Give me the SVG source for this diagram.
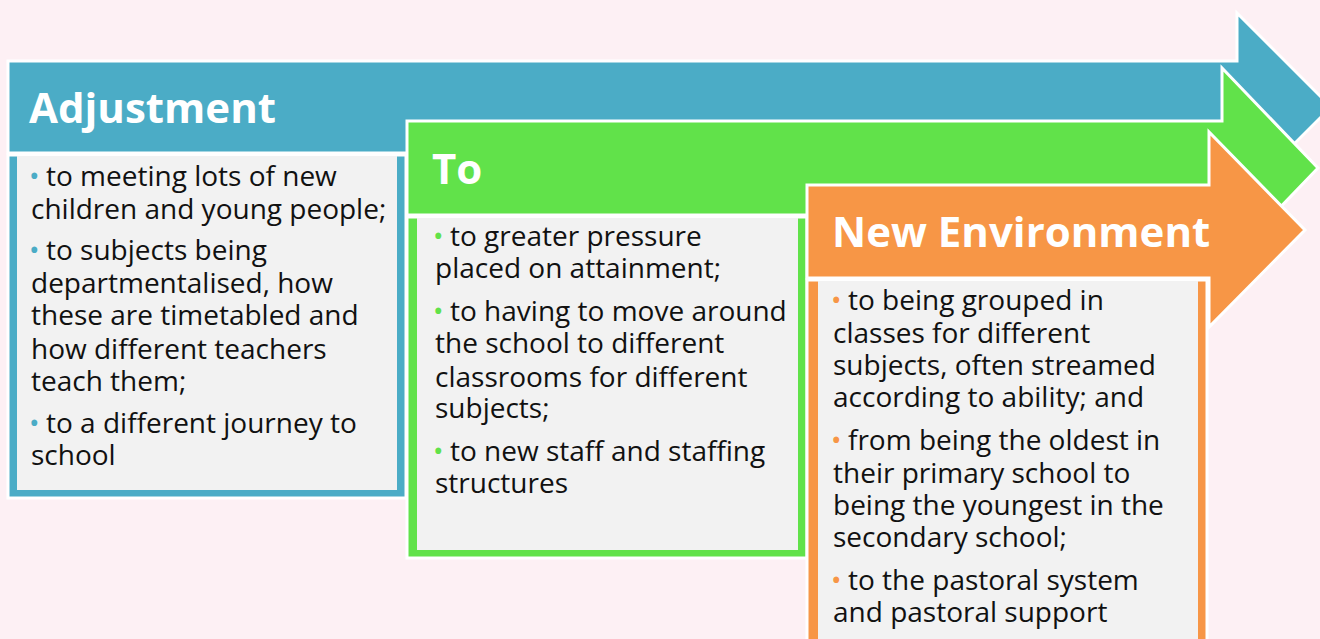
<svg xmlns="http://www.w3.org/2000/svg" width="1320" height="639" viewBox="0 0 1320 639">
  <style>
    .arrow { stroke: #ffffff; stroke-width: 3; stroke-linejoin: miter; }
    .frame { stroke: #ffffff; stroke-width: 3; }
    .panel { fill: #f2f2f2; }
    .blue { fill: #4bacc6; }
    .green { fill: #61e24a; }
    .orange { fill: #f79646; }
    .title { font-family: "Open Sans", "Liberation Sans", sans-serif; font-weight: 700; font-size: 42px; fill: #ffffff; }
    .body { font-family: "Open Sans", "Liberation Sans", sans-serif; font-size: 28px; fill: #111111; }
    .bb { fill: #4bacc6; }
    .bg { fill: #61e24a; }
    .bo { fill: #f79646; }
  </style>
  <rect width="1320" height="639" fill="#fdf0f4"/>

  <!-- first stage: Adjustment -->
  <g id="adjustment">
    <polygon class="arrow blue" points="8,61 1237,61 1237,13 1331,107 1237,201 1237,153 8,153"/>
    <text class="title" x="29" y="123">Adjustment</text>
    <rect class="frame blue" x="8" y="155" width="398" height="343"/>
    <rect class="panel" x="17" y="156" width="380" height="334"/>
    <text class="body">
      <tspan class="bb" x="29" y="186">•</tspan><tspan x="46" y="186">to meeting lots of new</tspan>
      <tspan x="31" y="219">children and young people;</tspan>
      <tspan class="bb" x="29" y="260">•</tspan><tspan x="46" y="260">to subjects being</tspan>
      <tspan x="31" y="293">departmentalised, how</tspan>
      <tspan x="31" y="325">these are timetabled and</tspan>
      <tspan x="31" y="359">how different teachers</tspan>
      <tspan x="31" y="391">teach them;</tspan>
      <tspan class="bb" x="29" y="433">•</tspan><tspan x="46" y="433">to a different journey to</tspan>
      <tspan x="31" y="465">school</tspan>
    </text>
  </g>

  <!-- second stage: To -->
  <g id="to">
    <polygon class="arrow green" points="407,121 1222,121 1222,68 1318,168 1222,268 1222,215 407,215"/>
    <text class="title" x="432" y="184">To</text>
    <rect class="frame green" x="407" y="217" width="400" height="341"/>
    <rect class="panel" x="417" y="218" width="381" height="332"/>
    <text class="body">
      <tspan class="bg" x="433" y="246">•</tspan><tspan x="450" y="246">to greater pressure</tspan>
      <tspan x="435" y="278">placed on attainment;</tspan>
      <tspan class="bg" x="433" y="321">•</tspan><tspan x="450" y="321">to having to move around</tspan>
      <tspan x="435" y="353">the school to different</tspan>
      <tspan x="435" y="387">classrooms for different</tspan>
      <tspan x="435" y="418">subjects;</tspan>
      <tspan class="bg" x="433" y="461">•</tspan><tspan x="450" y="461">to new staff and staffing</tspan>
      <tspan x="435" y="493">structures</tspan>
    </text>
  </g>

  <!-- third stage: New Environment -->
  <g id="new-environment">
    <polygon class="arrow orange" points="807,185 1209,185 1209,132 1305,230 1209,327 1209,278 807,278"/>
    <text class="title" x="832" y="247">New Environment</text>
    <rect class="frame orange" x="807" y="280" width="400" height="380"/>
    <rect class="panel" x="818" y="281" width="380" height="380"/>
    <text class="body">
      <tspan class="bo" x="831" y="310">•</tspan><tspan x="848" y="310">to being grouped in</tspan>
      <tspan x="833" y="343">classes for different</tspan>
      <tspan x="833" y="375">subjects, often streamed</tspan>
      <tspan x="833" y="407">according to ability; and</tspan>
      <tspan class="bo" x="831" y="450">•</tspan><tspan x="848" y="450">from being the oldest in</tspan>
      <tspan x="833" y="483">their primary school to</tspan>
      <tspan x="833" y="515">being the youngest in the</tspan>
      <tspan x="833" y="547">secondary school;</tspan>
      <tspan class="bo" x="831" y="590">•</tspan><tspan x="848" y="590">to the pastoral system</tspan>
      <tspan x="833" y="622">and pastoral support</tspan>
    </text>
  </g>
</svg>
